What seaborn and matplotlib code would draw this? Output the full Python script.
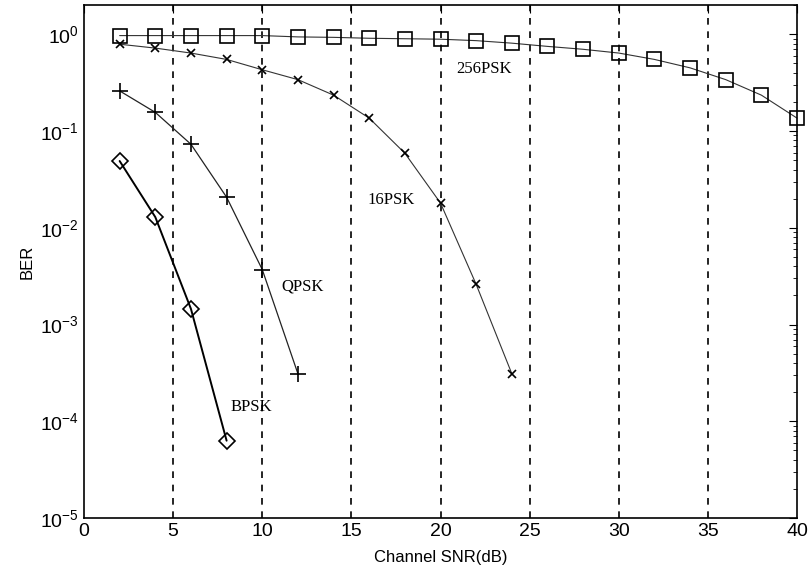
import numpy as np
import pandas as pd
import matplotlib
import matplotlib.pyplot as plt
import seaborn as sns

plt.switch_backend('Agg')

# data
snr_256 = [2, 4, 6, 8, 10, 12, 14, 16, 18, 20, 22, 24, 26, 28, 30, 32, 34, 36, 38, 40]
ber_256 = [0.97, 0.97, 0.97, 0.97, 0.97, 0.94, 0.93, 0.91, 0.90, 0.89, 0.86, 0.81,
           0.75, 0.70, 0.64, 0.55, 0.45, 0.34, 0.235, 0.136]
snr_16 = [2, 4, 6, 8, 10, 12, 14, 16, 18, 20, 22, 24]
ber_16 = [0.79, 0.72, 0.64, 0.55, 0.43, 0.34, 0.235, 0.136, 0.059, 0.018, 0.0026, 3.1e-4]
snr_q = [2, 4, 6, 8, 10, 12]
ber_q = [0.26, 0.156, 0.073, 0.0207, 0.0037, 3.1e-4]
snr_b = [2, 4, 6, 8]
ber_b = [0.049, 0.0129, 0.00145, 6.3e-5]

labels = ['256PSK', '16PSK', 'QPSK', 'BPSK']
label_pos = [(20.9, 0.435), (15.9, 0.0193), (11.05, 0.00245), (8.2, 1.4e-4)]

sns.set_style("white")
plt.rcParams['font.family'] = ['Liberation Sans', 'DejaVu Sans']
plt.rcParams['mathtext.fontset'] = 'custom'
plt.rcParams['mathtext.rm'] = 'Liberation Sans'
plt.rcParams['mathtext.it'] = 'Liberation Sans:italic'

fig = plt.figure(figsize=(8.1, 5.76), dpi=100)
ax = fig.add_axes([0.1037, 0.1007, 0.8803, 0.8903])

series = [
    (snr_256, ber_256, dict(marker='s', markersize=10, linewidth=0.8, color='#333333')),
    (snr_16, ber_16, dict(marker='x', markersize=6, linewidth=0.8, color='#333333')),
    (snr_q, ber_q, dict(marker='+', markersize=11, linewidth=0.9, color='#222222')),
    (snr_b, ber_b, dict(marker='D', markersize=8, linewidth=1.4, color='black')),
]
for x, y, st in series:
    df = pd.DataFrame({'snr': x, 'ber': y})
    sns.lineplot(data=df, x='snr', y='ber', ax=ax, color=st['color'],
                 linewidth=st['linewidth'], marker=st['marker'],
                 markersize=st['markersize'], markerfacecolor='none',
                 markeredgecolor='black', markeredgewidth=1.2, clip_on=False)

for lab, (tx, ty) in zip(labels, label_pos):
    ax.text(tx, ty, lab, family='Liberation Serif', fontsize=12,
            va='center', ha='left', color='black')

ax.set_yscale('log')
ax.set_xlim(0, 40)
ax.set_ylim(1e-5, 2)
ax.set_xticks(range(0, 41, 5))
for xv in range(5, 40, 5):
    ax.axvline(xv, color='black', linestyle=(0, (4, 4)), linewidth=1.2, zorder=0)

ax.set_xlabel('Channel SNR(dB)', fontsize=12, labelpad=7, color='black')
ax.set_ylabel('BER', fontsize=12, color='black')
ax.tick_params(axis='both', which='both', direction='in', top=True, right=True,
               labelsize=14, color='black', labelcolor='black')
ax.tick_params(which='major', length=6)
ax.tick_params(which='minor', length=3)
for s in ax.spines.values():
    s.set_color('black')
    s.set_linewidth(1.2)

plt.savefig('out.png', dpi=100)
plt.close()
